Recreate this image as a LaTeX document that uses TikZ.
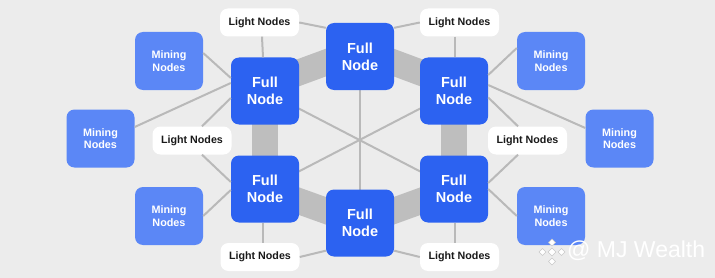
\documentclass[tikz,border=0pt]{standalone}
\usepackage{fontspec}
\setmainfont{Liberation Sans}
\usetikzlibrary{calc}
\definecolor{bg}{HTML}{ECECEC}
\definecolor{fullblue}{HTML}{2C62F1}
\definecolor{minblue}{HTML}{5B87F6}
\definecolor{bandgray}{HTML}{BEBEBE}
\definecolor{linegray}{HTML}{B9B9B9}
\definecolor{wmgray}{HTML}{C9C9C9}
\tikzset{
  fullnode/.style={fill=fullblue, rounded corners=8pt, minimum width=68pt, minimum height=67pt,
    text=white, align=center, inner sep=0pt, font=\fontsize{14.5}{17}\selectfont\bfseries},
  minenode/.style={fill=minblue, rounded corners=8pt, minimum width=68pt, minimum height=58pt,
    text=white, align=center, inner sep=0pt, font=\fontsize{10.8}{12.5}\selectfont\bfseries},
  lightnode/.style={fill=white, rounded corners=8pt, minimum width=79pt, minimum height=28pt,
    text=black!90, align=center, inner sep=0pt, font=\fontsize{10.7}{12}\selectfont\bfseries},
  band/.style={draw=bandgray, line width=26pt},
  thinline/.style={draw=linegray, line width=2pt},
  wmdiamond/.style={fill=white, draw=wmgray, line width=0.6pt}
}
\begin{document}
\begin{tikzpicture}[x=1pt,y=-1pt]
\fill[bg] (0,0) rectangle (715,278);
\useasboundingbox (0,0) rectangle (715,278);

\path (360,56.5) coordinate (cftop) (265,91) coordinate (cful) (454,91) coordinate (cfur)
      (265,189) coordinate (cfll) (454,189) coordinate (cflr) (360,223) coordinate (cfbot);

% bands
\draw[band] ($(cful)+(0,-6)$) -- ($(cftop)+(0,-6.5)$);
\draw[band] ($(cfur)+(0,-6)$) -- ($(cftop)+(0,-6.5)$);
\draw[band] (cful) -- (cfll);
\draw[band] (cfur) -- (cflr);
\draw[band] (cfll) -- (cfbot);
\draw[band] (cflr) -- (cfbot);

% diagonals through the centre
\draw[thinline] (cful) -- (cflr);
\draw[thinline] (cfur) -- (cfll);
\draw[thinline] (cftop) -- (cfbot);

% nodes
\node[fullnode] (ftop) at (cftop) {Full\\Node};
\node[fullnode] (ful) at (cful) {Full\\Node};
\node[fullnode] (fur) at (cfur) {Full\\Node};
\node[fullnode] (fll) at (cfll) {Full\\Node};
\node[fullnode] (flr) at (cflr) {Full\\Node};
\node[fullnode] (fbot) at (cfbot) {Full\\Node};

\node[minenode] (mtl) at (169,61) {Mining\\Nodes};
\node[minenode] (ml) at (100.5,138.5) {Mining\\Nodes};
\node[minenode] (mbl) at (169,216) {Mining\\Nodes};
\node[minenode] (mtr) at (551,61) {Mining\\Nodes};
\node[minenode] (mr) at (619.5,138.5) {Mining\\Nodes};
\node[minenode] (mbr) at (551,216) {Mining\\Nodes};

\node[lightnode] (ltl) at (259.5,22.5) {Light Nodes};
\node[lightnode] (ltr) at (459.5,22.5) {Light Nodes};
\node[lightnode] (lml) at (192,140.5) {Light Nodes};
\node[lightnode] (lmr) at (527.5,140.5) {Light Nodes};
\node[lightnode] (lbl) at (260,257) {Light Nodes};
\node[lightnode] (lbr) at (459.5,257) {Light Nodes};

% connectors
\draw[thinline] ($(mtl.east)+(0,-8)$) -- ($(ful.west)+(0,-13)$);
\draw[thinline] ($(ml.east)+(0,-11.5)$) -- ($(ful.west)+(0,-8)$);
\draw[thinline] ($(lml.north)+(10,0)$) -- ($(ful.west)+(0,7)$);
\draw[thinline] ($(lml.south)+(10,0)$) -- ($(fll.west)+(0,-7)$);
\draw[thinline] (mbl.east) -- ($(fll.west)+(0,1)$);
\draw[thinline] (ltl.east) -- ($(ftop.north west)+(0,5)$);
\draw[thinline] ($(ltl.south)+(2.5,0)$) -- ($(ful.north)+(-2,0)$);
\draw[thinline] ($(lbl.north)+(3,0)$) -- ($(fll.south)+(-2,0)$);
\draw[thinline] (lbl.east) -- ($(fbot.south west)+(0,-6)$);
\draw[thinline] (ltr.west) -- ($(ftop.north east)+(0,5)$);
\draw[thinline] ($(ltr.south)+(-4.5,0)$) -- ($(fur.north)+(1,0)$);
\draw[thinline] ($(fur.east)+(0,-16)$) -- ($(mtr.west)+(0,-13)$);
\draw[thinline] ($(fur.east)+(0,-6)$) -- ($(mr.west)+(0,-10.5)$);
\draw[thinline] ($(fur.east)+(0,6.5)$) -- ($(lmr.north)+(-9.5,0)$);
\draw[thinline] ($(flr.east)+(0,-6)$) -- ($(lmr.south)+(-9.5,0)$);
\draw[thinline] (flr.east) -- (mbr.west);
\draw[thinline] ($(lbr.north)+(-4.5,0)$) -- ($(flr.south)+(1,0)$);
\draw[thinline] (lbr.west) -- ($(fbot.south east)+(0,-6)$);

% watermark
\begin{scope}[shift={(552,252)}]
  \draw[wmdiamond] (0,-4) -- (4,0) -- (0,4) -- (-4,0) -- cycle;
  \draw[wmdiamond] (0,-13) -- (3.5,-9.5) -- (0,-6) -- (-3.5,-9.5) -- cycle;
  \draw[wmdiamond] (0,13) -- (3.5,9.5) -- (0,6) -- (-3.5,9.5) -- cycle;
  \draw[wmdiamond] (-13,0) -- (-9.5,3.5) -- (-6,0) -- (-9.5,-3.5) -- cycle;
  \draw[wmdiamond] (13,0) -- (9.5,3.5) -- (6,0) -- (9.5,-3.5) -- cycle;
\end{scope}
\node[text=white, font=\fontsize{23}{26}\selectfont, inner sep=0pt, anchor=west] (wm) at (567,251) {@ MJ Wealth};
\end{tikzpicture}
\end{document}
